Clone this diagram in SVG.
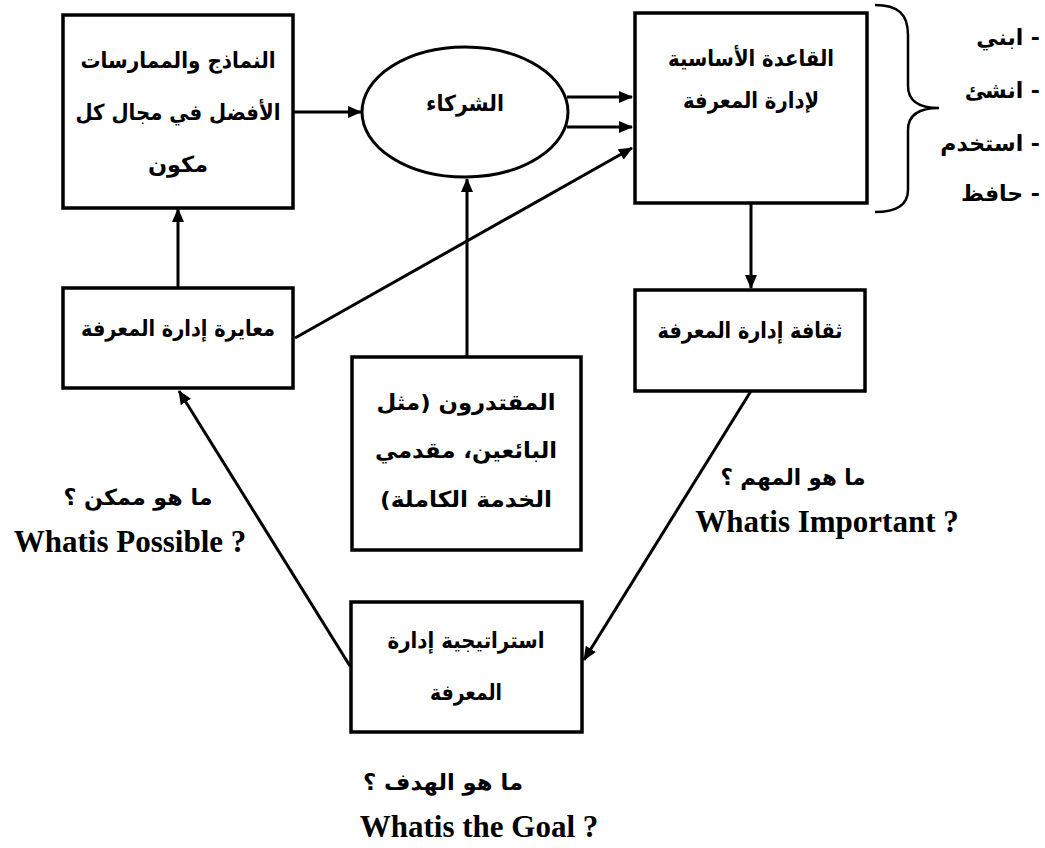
<svg xmlns="http://www.w3.org/2000/svg" width="1045" height="848" viewBox="0 0 1045 848">
<style>
.box{fill:#fff;stroke:#000;stroke-width:3.5}
.ar{font-family:"DejaVu Sans","Noto Sans",sans-serif;font-weight:bold;font-size:22px;fill:#000;text-anchor:middle}
.en{font-family:"Liberation Serif","Times New Roman",serif;font-weight:bold;font-size:31px;fill:#000;text-anchor:middle}
.ln{fill:none;stroke:#000;stroke-width:3}
</style>
<defs>
<marker id="ah" markerUnits="userSpaceOnUse" markerWidth="14" markerHeight="12" refX="13" refY="6" orient="auto">
<path d="M0,0 L14,6 L0,12 z" fill="#000"/>
</marker>
</defs>
<rect width="1045" height="848" fill="#fff"/>

<g id="connectors">
<line class="ln" x1="293" y1="112" x2="361" y2="112" marker-end="url(#ah)"/>
<line class="ln" x1="567" y1="97" x2="632" y2="97" marker-end="url(#ah)"/>
<line class="ln" x1="567" y1="127" x2="632" y2="127" marker-end="url(#ah)"/>
<line class="ln" x1="295" y1="338" x2="632" y2="148" marker-end="url(#ah)"/>
<line class="ln" x1="467" y1="357" x2="467" y2="179" marker-end="url(#ah)"/>
<line class="ln" x1="178" y1="288" x2="178" y2="209" marker-end="url(#ah)"/>
<line class="ln" x1="751" y1="203" x2="751" y2="288" marker-end="url(#ah)"/>
<line class="ln" x1="751" y1="391" x2="584" y2="660" marker-end="url(#ah)"/>
<line class="ln" x1="350" y1="666" x2="179" y2="391" marker-end="url(#ah)"/>
</g>

<g id="node-models">
<rect class="box" x="63" y="15" width="230" height="193"/>
<text class="ar" direction="rtl" x="178" y="68" textLength="195" lengthAdjust="spacingAndGlyphs">النماذج والممارسات</text>
<text class="ar" direction="rtl" x="178" y="120" textLength="205" lengthAdjust="spacingAndGlyphs">الأفضل في مجال كل</text>
<text class="ar" direction="rtl" x="178" y="172" textLength="60" lengthAdjust="spacingAndGlyphs">مكون</text>
</g>

<g id="node-partners">
<ellipse cx="465" cy="112" rx="103" ry="65" fill="#fff" stroke="#000" stroke-width="3"/>
<text class="ar" direction="rtl" x="465" y="111" textLength="78" lengthAdjust="spacingAndGlyphs">الشركاء</text>
</g>

<g id="node-base">
<rect class="box" x="635" y="13" width="232" height="190"/>
<text class="ar" direction="rtl" x="751" y="66" textLength="166" lengthAdjust="spacingAndGlyphs">القاعدة الأساسية</text>
<text class="ar" direction="rtl" x="751" y="108" textLength="136" lengthAdjust="spacingAndGlyphs">لإدارة المعرفة</text>
</g>

<g id="brace">
<path d="M875,5 C898,5 908,14 908,35 L908,86 C908,100 918,108 939,108 C918,108 908,116 908,130 L908,190 C908,204 898,212 875,212" fill="none" stroke="#000" stroke-width="2.5"/>
<text class="ar" x="1040" y="45" style="text-anchor:end">ابني -</text>
<text class="ar" x="1040" y="98" style="text-anchor:end">انشئ -</text>
<text class="ar" x="1040" y="151" style="text-anchor:end">استخدم -</text>
<text class="ar" x="1040" y="201" style="text-anchor:end">حافظ -</text>
</g>

<g id="node-benchmark">
<rect class="box" x="63" y="288" width="230" height="100"/>
<text class="ar" direction="rtl" x="178" y="336" textLength="194" lengthAdjust="spacingAndGlyphs">معايرة إدارة المعرفة</text>
</g>

<g id="node-suppliers">
<rect class="box" x="352" y="357" width="229" height="193"/>
<text class="ar" direction="rtl" x="466" y="410" textLength="179" lengthAdjust="spacingAndGlyphs">المقتدرون (مثل</text>
<text class="ar" direction="rtl" x="466" y="458" textLength="182" lengthAdjust="spacingAndGlyphs">البائعين، مقدمي</text>
<text class="ar" direction="rtl" x="466" y="507" textLength="172" lengthAdjust="spacingAndGlyphs">الخدمة الكاملة)</text>
</g>

<g id="node-culture">
<rect class="box" x="635" y="290" width="230" height="101"/>
<text class="ar" direction="rtl" x="750" y="338" textLength="185" lengthAdjust="spacingAndGlyphs">ثقافة إدارة المعرفة</text>
</g>

<g id="node-strategy">
<rect class="box" x="351" y="602" width="231" height="130"/>
<text class="ar" direction="rtl" x="466" y="648" textLength="157" lengthAdjust="spacingAndGlyphs">استراتيجية إدارة</text>
<text class="ar" direction="rtl" x="466" y="700" textLength="72" lengthAdjust="spacingAndGlyphs">المعرفة</text>
</g>

<g id="labels">
<text class="ar" direction="rtl" x="138" y="505" textLength="149" lengthAdjust="spacingAndGlyphs">ما هو ممكن ؟</text>
<text class="en" x="130" y="552">Whatis Possible ?</text>
<text class="ar" direction="rtl" x="793" y="485" textLength="145" lengthAdjust="spacingAndGlyphs">ما هو المهم ؟</text>
<text class="en" x="827" y="532">Whatis Important ?</text>
<text class="ar" direction="rtl" x="443" y="790" textLength="160" lengthAdjust="spacingAndGlyphs">ما هو الهدف ؟</text>
<text class="en" x="479" y="837">Whatis the Goal ?</text>
</g>
</svg>
